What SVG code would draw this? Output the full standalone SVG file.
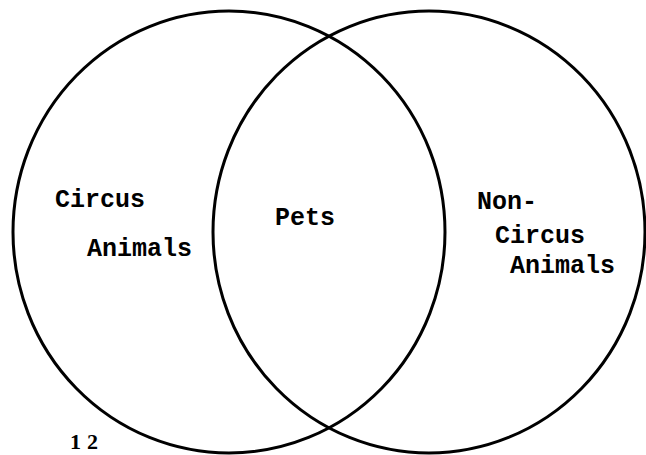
<svg xmlns="http://www.w3.org/2000/svg" width="646" height="455" viewBox="0 0 646 455">
<style>
.c{fill:none;stroke:#000;stroke-width:3}
.t{font-family:"Liberation Mono","Courier New",monospace;font-size:25px;font-weight:bold;fill:#000}
.n{font-family:"Liberation Serif","Times New Roman",serif;font-size:22px;font-weight:bold;fill:#000}
</style>
<rect width="646" height="455" fill="#fff"/>
<g id="connectors"></g>
<g id="circus">
<ellipse class="c" cx="229" cy="232" rx="216" ry="221"/>
<text class="t" x="55" y="207">Circus</text>
<text class="t" x="87" y="256">Animals</text>
</g>
<g id="noncircus">
<ellipse class="c" cx="429" cy="232" rx="216" ry="221"/>
<text class="t" x="477" y="209">Non-</text>
<text class="t" x="495" y="243">Circus</text>
<text class="t" x="510" y="273">Animals</text>
</g>
<g id="pets">
<text class="t" x="275" y="225">Pets</text>
</g>
<g id="page">
<text class="n" x="70" y="449" letter-spacing="6">12</text>
</g>
</svg>
